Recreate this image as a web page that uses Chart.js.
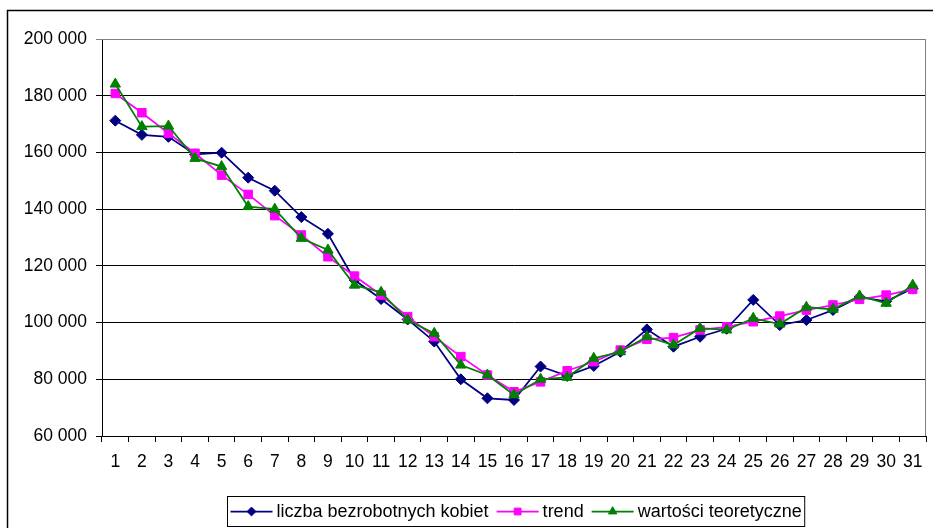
<!DOCTYPE html>
<html>
<head>
<meta charset="utf-8">
<script src="https://cdn.jsdelivr.net/npm/chart.js@4/dist/chart.umd.min.js"></script>
<style>
  html, body { margin: 0; padding: 0; background: #fff; }
  #wrap { position: relative; width: 933px; height: 528px; overflow: hidden; }
  canvas { display: block; }
</style>
</head>
<body>
<div id="wrap"><canvas id="c" width="933" height="528"></canvas></div>
<script>
// Months 1..31
const categories = Array.from({ length: 31 }, (_, i) => String(i + 1));

// Number of unemployed women
const liczbaKobiet = [171200, 166200, 165500, 159300, 159900, 151100, 146500, 137200, 131300, 115000,
  108300, 101100, 93300, 80000, 73300, 72700, 84500, 81200, 84700, 89700,
  97600, 91500, 95000, 97800, 108000, 99100, 100900, 104400, 109000, 107500, 112000];

// Trend line
const trend = [180800, 174000, 166700, 159700, 152000, 145200, 137700, 130900, 123200, 116400,
  109700, 102100, 95000, 88000, 81500, 75600, 79100, 83000, 86200, 90300,
  94100, 94700, 97400, 98500, 100300, 102300, 104400, 106200, 108200, 109700, 111700];

// Fitted (theoretical) values
const wartosciTeoretyczne = [184100, 169100, 169300, 157900, 155000, 140900, 140000, 129700, 125600, 113200,
  110700, 100900, 96200, 85000, 81500, 74500, 80000, 80700, 87400, 89700,
  95000, 92100, 98000, 97400, 101500, 99500, 105400, 104700, 109400, 106800, 113200];

const seriesNames = ['liczba bezrobotnych kobiet', 'trend', 'wartości teoretyczne'];
const yMin = 60000, yMax = 200000, yStep = 20000;

const FONT = "'Liberation Sans', Arial, sans-serif";
const TICK_SIZE = 17.5;
const LEGEND_SIZE = 18;
Chart.defaults.font.family = FONT;
Chart.defaults.font.size = TICK_SIZE;
Chart.defaults.color = '#000';

function fmt(v) {
  return String(v).replace(/\B(?=(\d{3})+(?!\d))/g, ' ');
}

// Outer frame, plot-area right border, and boxed legend
const framePlugin = {
  id: 'frame',
  beforeDraw(chart) {
    const ctx = chart.ctx;
    ctx.save();
    ctx.fillStyle = '#fff';
    ctx.fillRect(0, 0, chart.width, chart.height);
    ctx.strokeStyle = '#000';
    ctx.lineWidth = 1.5;
    ctx.strokeRect(7.5, 10.5, 1000, 1000);
    ctx.restore();
  },
  beforeDatasetsDraw(chart) {
    const { ctx, chartArea } = chart;
    ctx.save();
    ctx.strokeStyle = '#808080';
    ctx.lineWidth = 1;
    ctx.beginPath();
    ctx.moveTo(chartArea.left, chartArea.top + 0.5);
    ctx.lineTo(chartArea.right, chartArea.top + 0.5);
    ctx.moveTo(chartArea.right - 0.5, chartArea.top);
    ctx.lineTo(chartArea.right - 0.5, chartArea.bottom);
    ctx.stroke();
    ctx.restore();
  },
  afterDraw(chart) {
    const ctx = chart.ctx;
    ctx.save();
    ctx.font = LEGEND_SIZE + 'px ' + FONT;
    const sampleW = 42, gapText = 4, gapItem = 8, padX = 3;
    const ds = chart.data.datasets;
    const widths = ds.map(d => ctx.measureText(d.label).width);
    const total = padX * 2 + ds.length * (sampleW + gapText) + widths.reduce((a, b) => a + b, 0) + gapItem * (ds.length - 1);
    const cx = 516;
    const boxL = Math.round(cx - total / 2) + 0.5;
    const boxT = 496.5, boxH = 30;
    ctx.fillStyle = '#fff';
    ctx.fillRect(boxL, boxT, total, boxH);
    ctx.strokeStyle = '#000';
    ctx.lineWidth = 1;
    ctx.strokeRect(boxL, boxT, total, boxH);
    const yMid = boxT + boxH / 2;
    let x = boxL + padX;
    ds.forEach((d, i) => {
      ctx.strokeStyle = d.borderColor;
      ctx.lineWidth = d.borderWidth;
      ctx.beginPath();
      ctx.moveTo(x, yMid);
      ctx.lineTo(x + sampleW, yMid);
      ctx.stroke();
      ctx.fillStyle = d.pointBackgroundColor;
      ctx.strokeStyle = d.pointBorderColor;
      ctx.lineWidth = 1;
      Chart.helpers.drawPoint(ctx, {
        pointStyle: d.pointStyle,
        radius: d.pointRadius * 0.8,
        rotation: 0,
        borderWidth: 1
      }, x + sampleW / 2, yMid);
      x += sampleW + gapText;
      ctx.fillStyle = '#000';
      ctx.textBaseline = 'middle';
      ctx.textAlign = 'left';
      ctx.fillText(d.label, x, yMid + 1);
      x += widths[i] + gapItem;
    });
    ctx.restore();
  }
};

function series(label, data, color, style, radius, order) {
  return {
    label, data, order,
    borderColor: color,
    backgroundColor: color,
    pointBackgroundColor: color,
    pointBorderColor: color,
    borderWidth: 1.75,
    pointStyle: style,
    pointRadius: radius,
    pointBorderWidth: 1,
    tension: 0
  };
}

new Chart(document.getElementById('c'), {
  type: 'line',
  data: {
    labels: categories,
    datasets: [
      series(seriesNames[0], liczbaKobiet, '#000080', 'rectRot', 5.5, 3),
      series(seriesNames[1], trend, '#FF00FF', 'rect', 6, 2),
      series(seriesNames[2], wartosciTeoretyczne, '#008000', 'triangle', 6, 1)
    ]
  },
  options: {
    responsive: false,
    animation: false,
    events: [],
    layout: { padding: { left: 0, right: 1, top: 39, bottom: 0 } },
    plugins: {
      legend: { display: false },
      tooltip: { enabled: false }
    },
    scales: {
      x: {
        offset: true,
        grid: {
          offset: true,
          drawOnChartArea: false,
          drawTicks: true,
          tickLength: 6,
          color: '#000'
        },
        border: { color: '#000', width: 1 },
        ticks: { padding: 10, maxRotation: 0, autoSkip: false, color: '#000' },
        afterFit(scale) { scale.height = 92; }
      },
      y: {
        min: yMin,
        max: yMax,
        grid: {
          color: (c) => (c.tick && c.tick.value === yMax) ? '#808080' : '#000',
          tickLength: 6,
          drawTicks: true
        },
        border: { color: '#000', width: 1 },
        ticks: {
          stepSize: yStep,
          padding: 9,
          color: '#000',
          callback: (v) => fmt(v)
        },
        afterFit(scale) { scale.width = 102; }
      }
    }
  },
  plugins: [framePlugin]
});
</script>
</body>
</html>
